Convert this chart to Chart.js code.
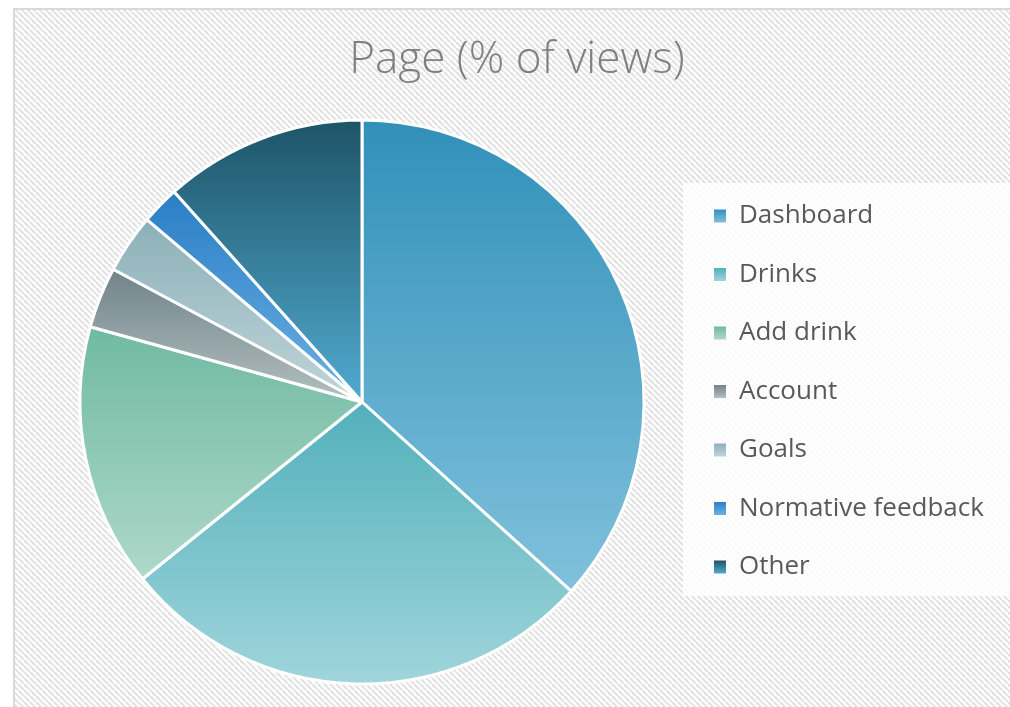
<!DOCTYPE html>
<html>
<head>
<meta charset="utf-8">
<title>Page (% of views)</title>
<script src="https://cdn.jsdelivr.net/npm/chart.js@4"></script>
<style>
  html, body { margin: 0; padding: 0; background: #fff; }
  #wrap { width: 1010px; height: 707px; }
</style>
</head>
<body>
<div id="wrap"><canvas id="pagePie" width="1010" height="707"></canvas></div>
<script>
// PAGES AND SHARE OF VIEWS (%)
const pages = ["Dashboard", "Drinks", "Add drink", "Account", "Goals", "Normative feedback", "Other"];
const views = [36.7, 27.5, 15.1, 3.5, 3.4, 2.2, 11.6];

// slice gradients, top colour -> bottom colour
const topColors = ["#3190b9", "#52b0bb", "#70baa2", "#71848a", "#8cb0b8", "#2a7ec6", "#1e5467"];
const bottomColors = ["#80c1dc", "#a0d5db", "#aed8ca", "#b3bfc0", "#c0d5da", "#6cb1e3", "#50aad0"];
const legendColors = ["#4fa2c9", "#78c3cb", "#8ccab6", "#8e9ea2", "#a3c1c8", "#4a97d4", "#2f7894"];

const RADIUS = 282;
const BOX_W = 12;
const BOX_H = 13;
const LABEL_SIZE = 26;

// vertical extent of a slice, so each one gets its own top-to-bottom gradient
function sliceGradient(context) {
  const chart = context.chart;
  const i = context.dataIndex;
  const area = chart.chartArea;
  if (!area) {
    return legendColors[i];
  }
  const total = views.reduce((a, b) => a + b, 0);
  let before = 0;
  for (let k = 0; k < i; k++) before += views[k];
  const a0 = -Math.PI / 2 + (before / total) * Math.PI * 2;
  const a1 = a0 + (views[i] / total) * Math.PI * 2;
  const cy = (area.top + area.bottom) / 2;
  let ys = [cy, cy + RADIUS * Math.sin(a0), cy + RADIUS * Math.sin(a1)];
  for (const peak of [-Math.PI / 2, Math.PI / 2, Math.PI * 1.5]) {
    if (peak > a0 && peak < a1) ys.push(cy + RADIUS * Math.sin(peak));
  }
  const top = Math.min(...ys);
  const bottom = Math.max(...ys);
  const grad = chart.ctx.createLinearGradient(0, top, 0, bottom);
  grad.addColorStop(0, topColors[i]);
  grad.addColorStop(1, bottomColors[i]);
  return grad;
}

// diagonal hatching of the chart background
function hatchPattern(ctx) {
  const tile = document.createElement("canvas");
  tile.width = 6;
  tile.height = 6;
  const t = tile.getContext("2d");
  t.fillStyle = "#ffffff";
  t.fillRect(0, 0, 6, 6);
  t.strokeStyle = "#e2e2e2";
  t.lineWidth = 2.2;
  for (const k of [-6, 0, 6]) {
    t.beginPath();
    t.moveTo(k, 0);
    t.lineTo(k + 6, 6);
    t.stroke();
  }
  return ctx.createPattern(tile, "repeat");
}

const backdrop = {
  id: "backdrop",
  beforeDraw(chart) {
    const { ctx, width, height } = chart;
    ctx.save();
    ctx.fillStyle = "#ffffff";
    ctx.fillRect(0, 0, width, height);
    ctx.fillStyle = hatchPattern(ctx);
    ctx.fillRect(14, 9, width, height);
    ctx.strokeStyle = "#d9d9d9";
    ctx.lineWidth = 2;
    ctx.strokeRect(14, 9, width + 20, height + 20);

    // white panel behind the legend
    const boxes = chart.legend.legendHitBoxes;
    if (boxes && boxes.length) {
      const first = boxes[0];
      const last = boxes[boxes.length - 1];
      const panelTop = first.top - 20;
      const panelBottom = last.top + last.height + 16;
      const panelLeft = chart.legend.left + 1.5;
      ctx.fillStyle = "rgba(255,255,255,0.82)";
      ctx.fillRect(panelLeft, panelTop, width - panelLeft, panelBottom - panelTop);
    }
    ctx.restore();
  },
  // legend swatches get the same top-to-bottom shading as their slices
  afterDraw(chart) {
    const { ctx } = chart;
    const boxes = chart.legend.legendHitBoxes || [];
    ctx.save();
    boxes.forEach((hb, i) => {
      const y = hb.top + (LABEL_SIZE - BOX_H) / 2;
      const grad = ctx.createLinearGradient(0, y, 0, y + BOX_H);
      grad.addColorStop(0, topColors[i]);
      grad.addColorStop(1, bottomColors[i]);
      ctx.fillStyle = grad;
      ctx.fillRect(hb.left, y, BOX_W, BOX_H);
    });
    ctx.restore();
  }
};

const config = {
  type: "pie",
  data: {
    labels: pages,
    datasets: [
      {
        label: "Page (% of views)",
        data: views,
        backgroundColor: sliceGradient,
        borderColor: "#ffffff",
        borderWidth: 3
      }
    ]
  },
  options: {
    responsive: false,
    animation: false,
    events: [],
    radius: RADIUS,
    layout: {
      padding: { top: 10, left: 42.5, right: 18.5, bottom: 0 }
    },
    plugins: {
      title: {
        display: true,
        text: "Page (% of views)",
        color: "#7f7f7f",
        font: { family: "'Open Sans', sans-serif", size: 44, weight: 300, lineHeight: 1.2 },
        padding: { top: 24, bottom: 10.2 }
      },
      legend: {
        position: "right",
        align: "start",
        maxWidth: 310,
        title: {
          display: true,
          text: "",
          font: { size: 12, lineHeight: 1 },
          padding: { top: 148.5, bottom: 0 }
        },
        labels: {
          boxWidth: BOX_W,
          boxHeight: BOX_H,
          padding: 32.5,
          color: "#595959",
          font: { family: "'Open Sans', sans-serif", size: LABEL_SIZE },
          generateLabels: () =>
            pages.map((name, i) => ({
              text: name,
              fillStyle: legendColors[i],
              strokeStyle: "#ffffff",
              lineWidth: 1,
              fontColor: "#595959",
              hidden: false,
              index: i
            }))
        }
      },
      tooltip: { enabled: false }
    }
  },
  plugins: [backdrop]
};

new Chart(document.getElementById("pagePie"), config);
</script>
</body>
</html>
